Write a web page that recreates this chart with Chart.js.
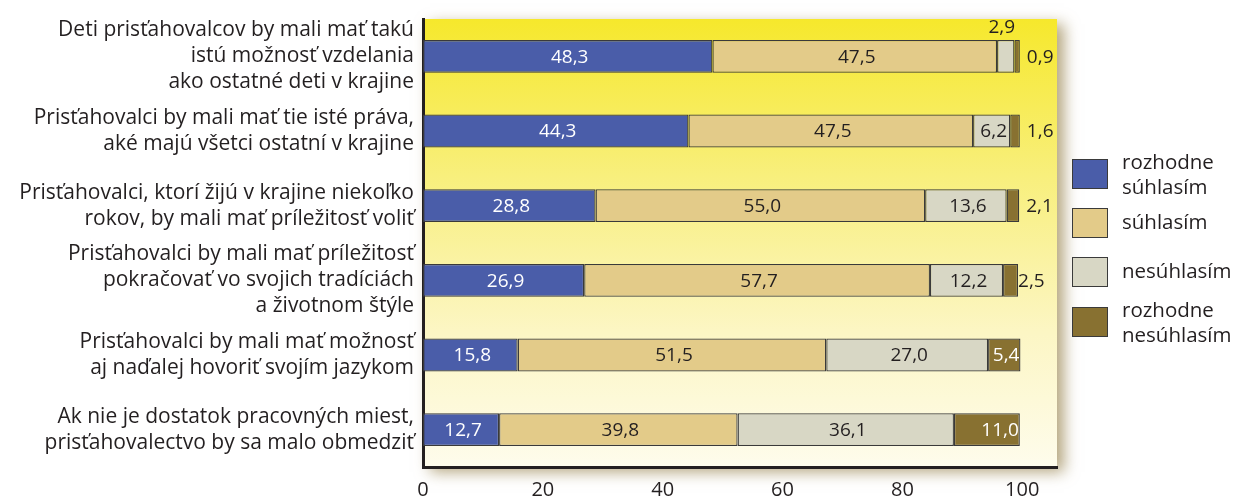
<!DOCTYPE html>
<html>
<head>
<meta charset="utf-8">
<script src="https://cdn.jsdelivr.net/npm/chart.js@4.4.1/dist/chart.umd.min.js"></script>
<style>
  html, body { margin: 0; padding: 0; background: #fff; }
  #wrap { position: relative; width: 1235px; height: 500px; }
  #legend { position: absolute; left: 1072px; top: 158px; font-family: 'Open Sans', sans-serif; font-size: 20.5px; color: #231f20; }
  .item { position: absolute; left: 0; width: 170px; height: 40px; }
  .box { position: absolute; left: 0; width: 36px; height: 30px; border: 1.5px solid #3a3a3a; box-sizing: border-box; }
  .txt { position: absolute; left: 50px; line-height: 25px; white-space: nowrap; }
</style>
</head>
<body>
<div id="wrap">
  <canvas id="chart" width="1235" height="500"></canvas>
  <div id="legend"></div>
</div>
<script>
const categories = [
  ['Deti prisťahovalcov by mali mať takú', 'istú možnosť vzdelania', 'ako ostatné deti v krajine'],
  ['Prisťahovalci by mali mať tie isté práva,', 'aké majú všetci ostatní v krajine'],
  ['Prisťahovalci, ktorí žijú v krajine niekoľko', 'rokov, by mali mať príležitosť voliť'],
  ['Prisťahovalci by mali mať príležitosť', 'pokračovať vo svojich tradíciách', 'a životnom štýle'],
  ['Prisťahovalci by mali mať možnosť', 'aj naďalej hovoriť svojím jazykom'],
  ['Ak nie je dostatok pracovných miest,', 'prisťahovalectvo by sa malo obmedziť']
];

const seriesNames = [['rozhodne', 'súhlasím'], ['súhlasím'], ['nesúhlasím'], ['rozhodne', 'nesúhlasím']];
const stronglyAgree = [48.3, 44.3, 28.8, 26.9, 15.8, 12.7];
const agree = [47.5, 47.5, 55.0, 57.7, 51.5, 39.8];
const disagree = [2.9, 6.2, 13.6, 12.2, 27.0, 36.1];
const stronglyDisagree = [0.9, 1.6, 2.1, 2.5, 5.4, 11.0];
const xTicks = [0, 20, 40, 60, 80, 100];

const colors = ['#4a5da9', '#e3cb89', '#d8d7c5', '#887131'];
const textColors = ['#ffffff', '#231f20', '#231f20', '#ffffff'];
const FONT = "'Open Sans', sans-serif";

// legend in html
const legend = document.getElementById('legend');
const legendTops = [0, 49, 98, 148];
seriesNames.forEach(function (name, i) {
  const item = document.createElement('div');
  item.className = 'item';
  item.style.top = legendTops[i] + 'px';
  const box = document.createElement('div');
  box.className = 'box';
  box.style.background = colors[i];
  box.style.top = '1px';
  const txt = document.createElement('div');
  txt.className = 'txt';
  txt.innerHTML = name.join('<br>');
  txt.style.top = (name.length > 1 ? -9 : 2) + 'px';
  item.appendChild(box);
  item.appendChild(txt);
  legend.appendChild(item);
});

const bgPlugin = {
  id: 'plotBg',
  beforeDraw: function (chart) {
    const a = chart.chartArea;
    const ctx = chart.ctx;
    const g = ctx.createLinearGradient(0, a.top, 0, a.bottom);
    g.addColorStop(0, '#f6e82c');
    g.addColorStop(0.35, '#f8ef7c');
    g.addColorStop(0.7, '#fcf6c4');
    g.addColorStop(1, '#fefcec');
    ctx.save();
    ctx.shadowColor = 'rgba(130,105,40,0.6)';
    ctx.shadowBlur = 14;
    ctx.shadowOffsetX = 7;
    ctx.shadowOffsetY = 5;
    ctx.fillStyle = g;
    ctx.fillRect(a.left, a.top, a.right - a.left, a.bottom - a.top);
    ctx.restore();
  }
};

const valuePlugin = {
  id: 'values',
  afterDatasetsDraw: function (chart) {
    const ctx = chart.ctx;
    ctx.save();
    ctx.font = '19px ' + FONT;
    ctx.textBaseline = 'middle';
    chart.data.datasets.forEach(function (ds, di) {
      const meta = chart.getDatasetMeta(di);
      meta.data.forEach(function (bar, i) {
        const v = ds.data[i];
        const txt = v.toFixed(1).replace('.', ',');
        const left = bar.base, right = bar.x, y = bar.y + 1;
        if (di === 3 && v < 3) {
          ctx.fillStyle = '#231f20';
          ctx.textAlign = 'left';
          ctx.fillText(txt, right + (v < 2.3 ? 7 : 0), y);
        } else if (di === 2 && v < 3) {
          ctx.fillStyle = '#231f20';
          ctx.textAlign = 'center';
          ctx.fillText(txt, (left + right) / 2 - 4, y - bar.height / 2 - 13);
        } else if (di === 3) {
          ctx.fillStyle = textColors[di];
          ctx.textAlign = 'right';
          ctx.fillText(txt, right - 1, y);
        } else {
          ctx.fillStyle = textColors[di];
          ctx.textAlign = 'center';
          ctx.fillText(txt, (left + right) / 2 + 2, y);
        }
      });
    });
    ctx.restore();
  }
};

const seriesData = [stronglyAgree, agree, disagree, stronglyDisagree];

new Chart(document.getElementById('chart'), {
  type: 'bar',
  data: {
    labels: categories,
    datasets: seriesData.map(function (d, i) {
      return {
        label: seriesNames[i].join(' '),
        data: d,
        backgroundColor: colors[i],
        borderColor: '#3a3a3a',
        borderWidth: 1.3,
        borderSkipped: false,
        barPercentage: 0.44,
        categoryPercentage: 1
      };
    })
  },
  options: {
    indexAxis: 'y',
    responsive: false,
    animation: false,
    layout: { padding: { top: 19, right: 178, bottom: 0, left: 0 } },
    scales: {
      x: {
        stacked: true,
        min: 0,
        max: 105.8,
        afterBuildTicks: function (scale) {
          scale.ticks = xTicks.map(function (v) { return { value: v }; });
        },
        afterFit: function (scale) {
          scale.height = 33;
          scale.paddingLeft = 0;
          scale.paddingRight = 0;
        },
        grid: { display: false, drawTicks: false },
        border: { display: true, width: 3, color: '#231f20' },
        ticks: { padding: 11, color: '#231f20', font: { family: FONT, size: 20 }, maxRotation: 0 }
      },
      y: {
        stacked: true,
        afterFit: function (scale) {
          scale.width = 423;
          scale.paddingTop = 0;
          scale.paddingBottom = 0;
        },
        grid: { display: false, drawTicks: false },
        border: { display: true, width: 3, color: '#231f20' },
        ticks: { autoSkip: false, padding: 9, color: '#231f20', font: { family: FONT, size: 21, lineHeight: 1.24 } }
      }
    },
    plugins: {
      legend: { display: false },
      tooltip: { enabled: false }
    }
  },
  plugins: [bgPlugin, valuePlugin]
});
</script>
</body>
</html>
